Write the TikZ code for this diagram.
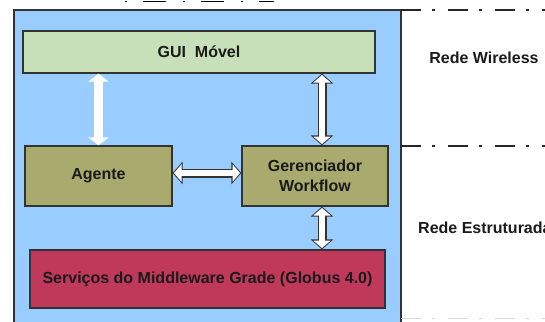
\documentclass[tikz,border=0pt]{standalone}
\usepackage{fontspec}
\setmainfont{Liberation Sans}
\usetikzlibrary{arrows.meta,calc}
\definecolor{bgblue}{HTML}{99CCFF}
\definecolor{guigreen}{HTML}{C8E0BA}
\definecolor{olive}{HTML}{A9AA6E}
\definecolor{crimson}{HTML}{C0395A}
\definecolor{edge}{HTML}{333333}
\definecolor{txt}{HTML}{1A1A1A}
\tikzset{
  box/.style={draw=edge, line width=1.2pt, rectangle, inner sep=0pt, font=\bfseries\fontsize{16}{20}\selectfont, text=txt, align=center},
  lbl/.style={font=\bfseries\fontsize{16}{18}\selectfont, text=txt, inner sep=0pt},
  outerarrow/.style={line width=9pt, draw=edge, {Triangle[length=10pt,width=22pt]}-{Triangle[length=10pt,width=22pt]}},
  innerarrow/.style={line width=6pt, draw=white, shorten <=1.4pt, shorten >=1.4pt, {Triangle[length=7.5pt,width=17pt]}-{Triangle[length=7.5pt,width=17pt]}},
  plainarrow/.style={line width=9pt, draw=white, {Triangle[length=8pt,width=20pt]}-{Triangle[length=8pt,width=20pt]}},
  netline/.style={draw=black!85, line width=1.6pt, dash pattern=on 20pt off 11pt on 3pt off 13pt},
}
\begin{document}
\begin{tikzpicture}[x=1pt,y=-1pt]
\useasboundingbox (0,0) rectangle (545,321);
% blue background
\path[fill=bgblue, draw=edge, line width=1.3pt] (14,10) rectangle (401,335);
% network separators
\draw[netline] (401,10) -- (546,10);
\draw[netline] (401,146) -- (546,146);
\draw[draw=gray!30, line width=1pt, dash pattern=on 20pt off 11pt on 3pt off 13pt] (401,318) -- (546,318);
\draw[draw=black, line width=1.5pt, dash pattern=on 2pt off 16pt on 23pt off 17pt] (125,1.5) -- (274,1.5);
% nodes
\node[box, fill=guigreen, minimum width=352pt, minimum height=42pt] (gui) at (199,52) {GUI\ \ Móvel};
\node[box, fill=olive, minimum width=147pt, minimum height=60pt] (agente) at (98.5,176) {Agente};
\node[box, fill=olive, minimum width=146pt, minimum height=60pt] (ger) at (315,176) {Gerenciador\\Workflow};
\node[box, fill=crimson, minimum width=355pt, minimum height=58pt] (serv) at (207.5,279) {Serviços do Middleware Grade (Globus 4.0)};
\node[lbl] (wireless) at (484,58) {Rede Wireless};
\node[lbl, anchor=west] (estrut) at (418,228) {Rede Estruturada};
% connectors
\coordinate (lt) at (agente.north |- gui.south);
\draw[plainarrow] (lt) -- (agente.north);
\coordinate (rb) at ([xshift=7pt]ger.north);
\coordinate (rt) at (rb |- gui.south);
\draw[outerarrow] (rt) -- (rb);
\draw[innerarrow] (rt) -- (rb);
\coordinate (hl) at ([yshift=3pt]agente.east);
\coordinate (hr) at ([yshift=3pt]ger.west);
\draw[outerarrow] (hl) -- (hr);
\draw[innerarrow] (hl) -- (hr);
\coordinate (bt) at ([xshift=7pt]ger.south);
\coordinate (bb) at (bt |- serv.north);
\draw[outerarrow] (bt) -- (bb);
\draw[innerarrow] (bt) -- (bb);
\end{tikzpicture}
\end{document}
